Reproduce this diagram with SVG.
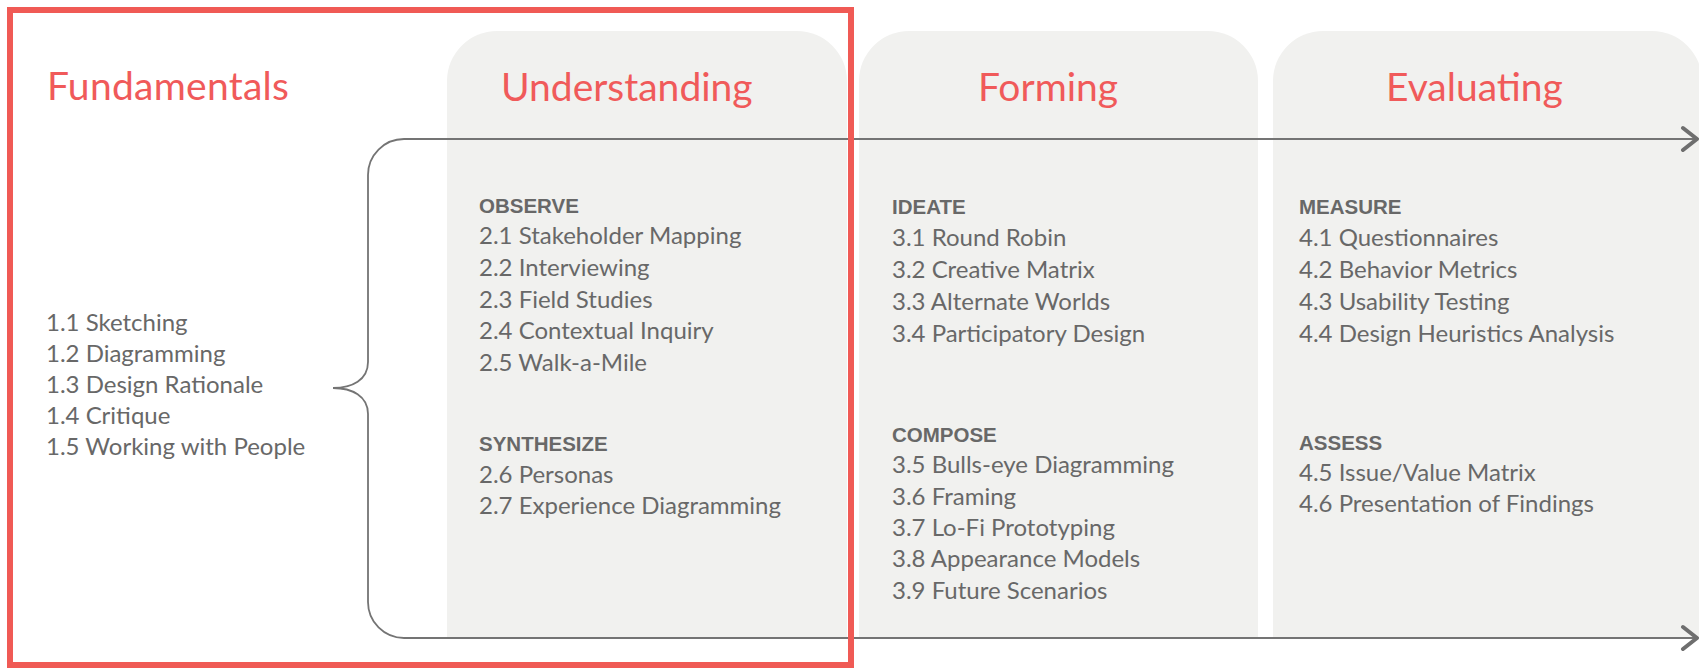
<svg xmlns="http://www.w3.org/2000/svg" width="1699" height="668" viewBox="0 0 1699 668">
<style>
.panel{fill:#F1F1EF;}
.title{font-family:Lato,"Open Sans","Liberation Sans",sans-serif;font-size:39px;fill:#F05A5A;}
.item{font-family:Lato,"Open Sans","Liberation Sans",sans-serif;font-size:24px;fill:#686868;}
.head{font-family:"Liberation Sans",Arial,sans-serif;font-size:20.5px;font-weight:bold;fill:#686868;}
.line{fill:none;stroke:#747474;stroke-width:1.8;}
.frame{fill:none;stroke:#F05A55;stroke-width:6;}
</style>
<defs>
<marker id="chev" markerUnits="userSpaceOnUse" viewBox="-18 -14 20 28" markerWidth="20" markerHeight="28" refX="0" refY="0" orient="auto">
<path d="M-14,-11 L0,0 L-14,11" fill="none" stroke="#6E6E6E" stroke-width="4" stroke-linecap="round" stroke-linejoin="round"/>
</marker>
</defs>
<g id="understanding-panel">
<path class="panel" d="M447,638 V81 A50,50 0 0 1 497,31 H797 A50,50 0 0 1 847,81 V638 Z"/>
</g>
<g id="forming-panel">
<path class="panel" d="M859,638 V81 A50,50 0 0 1 909,31 H1208 A50,50 0 0 1 1258,81 V638 Z"/>
</g>
<g id="evaluating-panel">
<path class="panel" d="M1273,638 V81 A50,50 0 0 1 1323,31 H1652 A50,50 0 0 1 1702,81 V638 Z"/>
</g>
<g id="connectors">
<path class="line" d="M404,139 A36,36 0 0 0 368,175 V362 C368,380 352,388 333,388 C352,388 368,396 368,414 V602 A36,36 0 0 0 404,638"/>
<path class="line" d="M404,139 H1697" marker-end="url(#chev)"/>
<path class="line" d="M404,638 H1697" marker-end="url(#chev)"/>
</g>
<g id="fundamentals">
<text class="title" x="47" y="100" textLength="242">Fundamentals</text>
<text class="item" x="46" y="331">1.1 Sketching</text>
<text class="item" x="46" y="362">1.2 Diagramming</text>
<text class="item" x="46" y="393">1.3 Design Rationale</text>
<text class="item" x="46" y="424">1.4 Critique</text>
<text class="item" x="46" y="455">1.5 Working with People</text>
</g>
<g id="understanding">
<text class="title" x="501" y="101">Understanding</text>
<text class="head" x="479" y="213">OBSERVE</text>
<text class="item" x="479" y="244">2.1 Stakeholder Mapping</text>
<text class="item" x="479" y="276">2.2 Interviewing</text>
<text class="item" x="479" y="307.5">2.3 Field Studies</text>
<text class="item" x="479" y="339">2.4 Contextual Inquiry</text>
<text class="item" x="479" y="371">2.5 Walk-a-Mile</text>
<text class="head" x="479" y="451">SYNTHESIZE</text>
<text class="item" x="479" y="482.5">2.6 Personas</text>
<text class="item" x="479" y="514">2.7 Experience Diagramming</text>
</g>
<g id="forming">
<text class="title" x="978" y="101">Forming</text>
<text class="head" x="892" y="214">IDEATE</text>
<text class="item" x="892" y="246">3.1 Round Robin</text>
<text class="item" x="892" y="278">3.2 Creative Matrix</text>
<text class="item" x="892" y="310">3.3 Alternate Worlds</text>
<text class="item" x="892" y="341.5">3.4 Participatory Design</text>
<text class="head" x="892" y="441.5">COMPOSE</text>
<text class="item" x="892" y="473">3.5 Bulls-eye Diagramming</text>
<text class="item" x="892" y="504.5">3.6 Framing</text>
<text class="item" x="892" y="536">3.7 Lo-Fi Prototyping</text>
<text class="item" x="892" y="567">3.8 Appearance Models</text>
<text class="item" x="892" y="598.5">3.9 Future Scenarios</text>
</g>
<g id="evaluating">
<text class="title" x="1386" y="101">Evaluating</text>
<text class="head" x="1299" y="214">MEASURE</text>
<text class="item" x="1299" y="246">4.1 Questionnaires</text>
<text class="item" x="1299" y="278">4.2 Behavior Metrics</text>
<text class="item" x="1299" y="310">4.3 Usability Testing</text>
<text class="item" x="1299" y="341.5">4.4 Design Heuristics Analysis</text>
<text class="head" x="1299" y="449.5">ASSESS</text>
<text class="item" x="1299" y="481">4.5 Issue/Value Matrix</text>
<text class="item" x="1299" y="512">4.6 Presentation of Findings</text>
</g>
<g id="highlight">
<rect class="frame" x="10" y="10" width="841" height="655"/>
</g>
</svg>
